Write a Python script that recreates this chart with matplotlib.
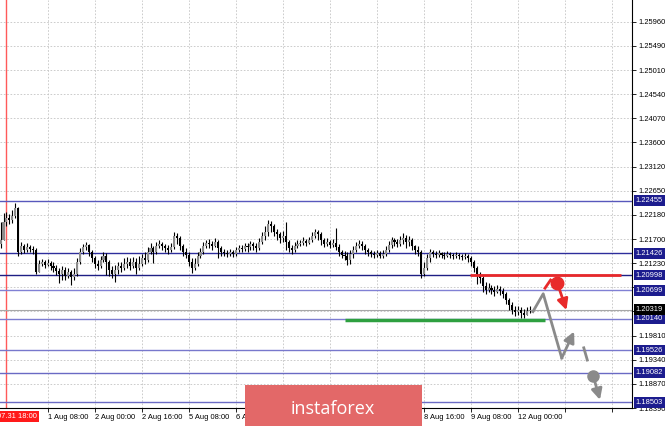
import matplotlib
matplotlib.use('Agg')
import matplotlib.pyplot as plt
import numpy as np
from matplotlib.transforms import blended_transform_factory
from matplotlib.patches import Rectangle

# ---------------- data (EURUSD H1, 31 Jul 16:00 ... 12 Aug 04:00) ----------------
first_open = 1.2160
close = [
    1.2168, 1.2204, 1.2212, 1.2208, 1.2216, 1.2231, 1.2145, 1.2157, 1.2149, 1.2155,
    1.2151, 1.2149, 1.2106, 1.2121, 1.2125, 1.2119, 1.2123, 1.2117, 1.2114, 1.2108,
    1.2102, 1.2110, 1.2098, 1.2106, 1.2096, 1.2102, 1.2125, 1.2145, 1.2155, 1.2159,
    1.2145, 1.2133, 1.2121, 1.2117, 1.2129, 1.2137, 1.2125, 1.2110, 1.2102, 1.2110,
    1.2117, 1.2114, 1.2121, 1.2125, 1.2117, 1.2125, 1.2114, 1.2121, 1.2133, 1.2129,
    1.2145, 1.2153, 1.2145, 1.2157, 1.2161, 1.2157, 1.2153, 1.2149, 1.2155, 1.2176,
    1.2172, 1.2157, 1.2145, 1.2139, 1.2125, 1.2114, 1.2121, 1.2137, 1.2145, 1.2157,
    1.2163, 1.2161, 1.2157, 1.2165, 1.2153, 1.2145, 1.2143, 1.2141, 1.2145, 1.2141,
    1.2149, 1.2153, 1.2151, 1.2157, 1.2155, 1.2161, 1.2157, 1.2153, 1.2165, 1.2176,
    1.2184, 1.2200, 1.2196, 1.2184, 1.2180, 1.2172, 1.2176, 1.2165, 1.2153, 1.2149,
    1.2157, 1.2161, 1.2163, 1.2167, 1.2163, 1.2168, 1.2176, 1.2184, 1.2180, 1.2168,
    1.2161, 1.2165, 1.2159, 1.2163, 1.2155, 1.2145, 1.2139, 1.2137, 1.2129, 1.2141,
    1.2149, 1.2157, 1.2161, 1.2157, 1.2149, 1.2145, 1.2141, 1.2139, 1.2143, 1.2137,
    1.2141, 1.2149, 1.2159, 1.2168, 1.2165, 1.2161, 1.2168, 1.2172, 1.2165, 1.2168,
    1.2157, 1.2149, 1.2145, 1.2102, 1.2114, 1.2133, 1.2145, 1.2141, 1.2139, 1.2143,
    1.2139, 1.2137, 1.2141, 1.2139, 1.2137, 1.2139, 1.2137, 1.2135, 1.2137, 1.2133,
    1.2125, 1.2114, 1.2102, 1.2094, 1.2078, 1.2070, 1.2074, 1.2070, 1.2066, 1.2072,
    1.2068, 1.2063, 1.2051, 1.2041, 1.2031, 1.2027, 1.2031, 1.2025, 1.2021, 1.2029,
    1.2031,
]
high = [
    1.2204, 1.2221, 1.2223, 1.2219, 1.2227, 1.2241, 1.2233, 1.2165, 1.2161, 1.2163,
    1.2159, 1.2157, 1.2153, 1.2129, 1.2131, 1.2129, 1.2131, 1.2127, 1.2125, 1.2119,
    1.2114, 1.2117, 1.2116, 1.2114, 1.2110, 1.2114, 1.2133, 1.2153, 1.2161, 1.2165,
    1.2161, 1.2149, 1.2137, 1.2129, 1.2137, 1.2145, 1.2143, 1.2129, 1.2117, 1.2119,
    1.2125, 1.2125, 1.2133, 1.2135, 1.2133, 1.2135, 1.2133, 1.2137, 1.2141, 1.2145,
    1.2155, 1.2163, 1.2157, 1.2165, 1.2168, 1.2165, 1.2161, 1.2159, 1.2163, 1.2184,
    1.2182, 1.2176, 1.2161, 1.2153, 1.2145, 1.2133, 1.2133, 1.2145, 1.2153, 1.2165,
    1.2168, 1.2170, 1.2167, 1.2172, 1.2168, 1.2157, 1.2151, 1.2149, 1.2151, 1.2149,
    1.2155, 1.2159, 1.2159, 1.2163, 1.2163, 1.2167, 1.2165, 1.2163, 1.2172, 1.2184,
    1.2196, 1.2208, 1.2206, 1.2200, 1.2190, 1.2184, 1.2186, 1.2204, 1.2168, 1.2159,
    1.2165, 1.2168, 1.2168, 1.2174, 1.2170, 1.2174, 1.2184, 1.2190, 1.2188, 1.2184,
    1.2172, 1.2172, 1.2168, 1.2170, 1.2192, 1.2161, 1.2149, 1.2147, 1.2145, 1.2149,
    1.2157, 1.2165, 1.2168, 1.2167, 1.2161, 1.2153, 1.2149, 1.2147, 1.2149, 1.2147,
    1.2149, 1.2157, 1.2167, 1.2174, 1.2172, 1.2170, 1.2176, 1.2182, 1.2178, 1.2176,
    1.2172, 1.2159, 1.2157, 1.2149, 1.2125, 1.2141, 1.2151, 1.2149, 1.2147, 1.2149,
    1.2145, 1.2145, 1.2147, 1.2145, 1.2143, 1.2145, 1.2143, 1.2141, 1.2143, 1.2141,
    1.2137, 1.2129, 1.2117, 1.2106, 1.2098, 1.2086, 1.2084, 1.2080, 1.2078, 1.2080,
    1.2078, 1.2074, 1.2066, 1.2055, 1.2047, 1.2039, 1.2039, 1.2037, 1.2033, 1.2037,
    1.2039,
]
low = [
    1.2153, 1.2168, 1.2196, 1.2200, 1.2202, 1.2212, 1.2137, 1.2141, 1.2143, 1.2145,
    1.2145, 1.2141, 1.2102, 1.2106, 1.2117, 1.2114, 1.2117, 1.2110, 1.2106, 1.2100,
    1.2084, 1.2090, 1.2090, 1.2094, 1.2080, 1.2090, 1.2098, 1.2121, 1.2141, 1.2149,
    1.2137, 1.2125, 1.2114, 1.2110, 1.2114, 1.2125, 1.2100, 1.2098, 1.2094, 1.2086,
    1.2102, 1.2106, 1.2110, 1.2114, 1.2110, 1.2114, 1.2102, 1.2110, 1.2117, 1.2121,
    1.2125, 1.2141, 1.2123, 1.2141, 1.2153, 1.2149, 1.2145, 1.2141, 1.2145, 1.2151,
    1.2161, 1.2149, 1.2137, 1.2133, 1.2117, 1.2104, 1.2110, 1.2117, 1.2133, 1.2141,
    1.2153, 1.2153, 1.2149, 1.2155, 1.2133, 1.2137, 1.2137, 1.2135, 1.2137, 1.2135,
    1.2137, 1.2145, 1.2145, 1.2147, 1.2145, 1.2149, 1.2149, 1.2145, 1.2149, 1.2161,
    1.2168, 1.2176, 1.2184, 1.2176, 1.2168, 1.2163, 1.2165, 1.2149, 1.2145, 1.2141,
    1.2145, 1.2153, 1.2157, 1.2159, 1.2157, 1.2161, 1.2165, 1.2172, 1.2168, 1.2159,
    1.2155, 1.2157, 1.2153, 1.2155, 1.2149, 1.2137, 1.2133, 1.2129, 1.2119, 1.2121,
    1.2133, 1.2145, 1.2153, 1.2149, 1.2141, 1.2137, 1.2135, 1.2133, 1.2135, 1.2133,
    1.2133, 1.2137, 1.2145, 1.2153, 1.2157, 1.2155, 1.2157, 1.2161, 1.2153, 1.2157,
    1.2149, 1.2141, 1.2137, 1.2094, 1.2098, 1.2110, 1.2125, 1.2135, 1.2133, 1.2135,
    1.2133, 1.2131, 1.2135, 1.2133, 1.2131, 1.2133, 1.2131, 1.2129, 1.2131, 1.2125,
    1.2117, 1.2106, 1.2082, 1.2084, 1.2066, 1.2063, 1.2066, 1.2063, 1.2059, 1.2065,
    1.2061, 1.2055, 1.2043, 1.2031, 1.2023, 1.2019, 1.2021, 1.2015, 1.2015, 1.2021,
    1.2025,
]

x_tick_bars = [16, 32, 48, 64, 80, 96, 112, 128, 144, 160, 176, 192, 208]
# labels at 6 Aug 16:00, 7 Aug 08:00 and 8 Aug 00:00 are hidden by the watermark
x_tick_labels = ['1 Aug 08:00', '2 Aug 00:00', '2 Aug 16:00', '5 Aug 08:00', '6 Aug 00:00',
                 '', '', '', '8 Aug 16:00', '9 Aug 08:00',
                 '12 Aug 00:00', '', '']
separator_bar = 2
separator_label = '07.31 18:00'

price_ticks = [1.25960, 1.25490, 1.25010, 1.24540, 1.24070, 1.23600, 1.23120, 1.22650,
               1.22180, 1.21700, 1.21230, 1.20760, 1.20290, 1.19810, 1.19340, 1.18870, 1.18390]
hidden_ticks = [1.20760, 1.20290]

levels = [1.22455, 1.21426, 1.20998, 1.20699, 1.20140, 1.19526, 1.19082, 1.18503]
level_colors = ['#5858BC', '#2E2E9C', '#1E1E84', '#8080D4', '#7C7CD0', '#7878CC', '#6A6AC4', '#6A6AC4']
bid_price = 1.20319

# analyst markup (bar index, price)
resist_bars = [159.7, 211.0]
resist_price = 1.20998
support_bars = [117.1, 185.2]
support_price = 1.2011
path_bars = [181.1, 184.6, 190.9]
path_prices = [1.2028, 1.2063, 1.1937]
path_tip = (195.1, 1.1989)
dash_bars = [198.4, 199.6]
dash_prices = [1.1957, 1.1933]
grey_dot = (201.6, 1.1902)
grey_tip = (203.9, 1.1855)
red_tick_bars = [185.2, 187.1]
red_tick_prices = [1.2074, 1.2090]
red_dot = (189.4, 1.2084)
red_tip = (192.5, 1.2031)

# ---------------- figure ----------------
W, H = 665, 426
fig = plt.figure(figsize=(W / 100, H / 100), dpi=100)
ax = fig.add_axes([0, 18 / H, 632 / W, 408 / H])
ax.set_xlim(-0.2, 214.8)
ax.set_ylim(1.18390, 1.26391)

FONT = 'Liberation Sans'

# grid
for p in price_ticks:
    ax.axhline(p, color='#C4C4C4', lw=0.6, ls=(0, (2, 2)), zorder=0)
for b in x_tick_bars:
    ax.axvline(b, color='#C4C4C4', lw=0.6, ls=(0, (2, 2)), zorder=0)

# separator
ax.axvline(separator_bar, color='#FF5A5A', lw=1.0, zorder=1)

# level lines
for lv, col in zip(levels, level_colors):
    ax.axhline(lv, color=col, lw=1.0, zorder=2)
ax.axhline(bid_price, color='#A8A8A8', lw=0.8, zorder=2)

# candles
c = np.array(close)
o = np.concatenate([[first_open], c[:-1]])
h = np.maximum(np.array(high), np.maximum(o, c))
l = np.minimum(np.array(low), np.minimum(o, c))
idx = np.arange(len(c))
ax.vlines(idx, l, h, color='black', lw=0.8, zorder=3)
body_bottom = np.minimum(o, c)
body_h = np.maximum(np.abs(c - o), 0.00006)
cols = ['#8C8C8C' if cc >= oo else 'black' for oo, cc in zip(o, c)]
ax.bar(idx, body_h, bottom=body_bottom, width=0.7, color=cols, edgecolor='none', zorder=4)

# markup
ax.plot(resist_bars, [resist_price] * 2, color='#E8282A', lw=2.0, zorder=5, solid_capstyle='butt')
ax.plot(support_bars, [support_price] * 2, color='#2EA040', lw=2.5, zorder=5, solid_capstyle='butt')
grey = '#8A8A8A'
ax.plot(path_bars, path_prices, color=grey, lw=2.0, zorder=5)
ax.annotate('', xy=path_tip, xytext=(path_bars[-1], path_prices[-1]),
            arrowprops=dict(arrowstyle='-|>', color=grey, lw=2.0, mutation_scale=16,
                            shrinkA=0, shrinkB=0), zorder=5)
ax.plot(dash_bars, dash_prices, color=grey, lw=2.0, zorder=5)
ax.plot(*grey_dot, 'o', color=grey, ms=8, zorder=6)
ax.annotate('', xy=grey_tip, xytext=grey_dot,
            arrowprops=dict(arrowstyle='-|>', color=grey, lw=2.0, mutation_scale=16,
                            shrinkA=0, shrinkB=0), zorder=5)
red = '#E82A2A'
ax.plot(red_tick_bars, red_tick_prices, color=red, lw=2.0, zorder=5)
ax.plot(*red_dot, 'o', color=red, ms=9, zorder=6)
ax.annotate('', xy=red_tip, xytext=red_dot,
            arrowprops=dict(arrowstyle='-|>', color=red, lw=2.0, mutation_scale=16,
                            shrinkA=0, shrinkB=0), zorder=5)

# axes styling
for s in ['left', 'top']:
    ax.spines[s].set_visible(False)
for s in ['right', 'bottom']:
    ax.spines[s].set_color('black')
    ax.spines[s].set_linewidth(0.8)

ax.yaxis.tick_right()
ax.set_yticks(price_ticks)
ax.set_yticklabels(['' if p in hidden_ticks else f'{p:.5f}' for p in price_ticks],
                   fontfamily=FONT, fontsize=5.4)
ax.tick_params(axis='y', length=3, width=0.6, pad=1.5, direction='out')

ax.set_xticks(x_tick_bars)
ax.set_xticklabels(x_tick_labels, fontfamily=FONT, fontsize=5.4)
for t in ax.get_xticklabels():
    t.set_ha('left')
ax.tick_params(axis='x', length=3, width=0.6, pad=1.5, direction='out')

# highlighted price labels
tr = blended_transform_factory(ax.transAxes, ax.transData)
for lv in levels:
    ax.text(1.006, lv, f'{lv:.5f}', transform=tr, ha='left', va='center', color='white',
            fontfamily=FONT, fontsize=5.4, zorder=10, clip_on=False,
            bbox=dict(boxstyle='square,pad=0.25', fc='#1C1C8E', ec='none'))
ax.text(1.006, bid_price, f'{bid_price:.5f}', transform=tr, ha='left', va='center', color='white',
        fontfamily=FONT, fontsize=5.4, zorder=10, clip_on=False,
        bbox=dict(boxstyle='square,pad=0.25', fc='black', ec='none'))

# separator date label
trx = blended_transform_factory(ax.transData, ax.transAxes)
ax.text(-1.2, -0.012, separator_label, transform=trx, ha='left', va='top', color='white',
        fontfamily=FONT, fontsize=5.4, zorder=10, clip_on=False,
        bbox=dict(boxstyle='square,pad=0.25', fc='#FF1A1A', ec='none'))

# watermark
fig.patches.append(Rectangle((245 / W, 0), 177 / W, 41 / H, transform=fig.transFigure,
                             fc='#E36868', ec='none', zorder=20))
fig.text(333 / W, 17 / H, 'instaforex', ha='center', va='center', color='white',
         fontfamily='Open Sans', fontsize=13, zorder=21)

fig.savefig('out.png', dpi=100)
